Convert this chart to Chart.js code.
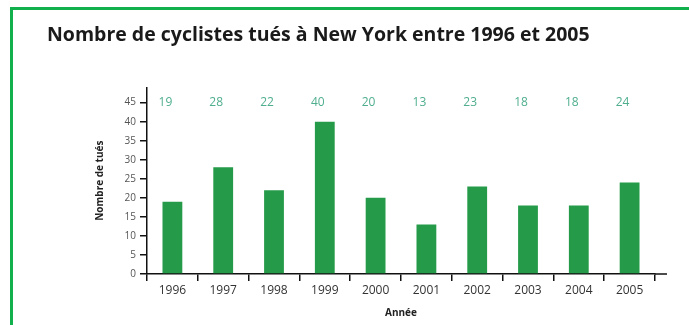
<!DOCTYPE html>
<html>
<head>
<meta charset="utf-8">
<script src="https://cdn.jsdelivr.net/npm/chart.js@4"></script>
<style>
    html, body { margin: 0; padding: 0; background: #fff; }
    #wrap { position: relative; width: 689px; height: 325px; }
    #frame {
        position: absolute; left: 10px; top: 7px; width: 679px; height: 330px;
        border-left: 3px solid #12b04c; border-top: 3px solid #12b04c;
        box-sizing: border-box; pointer-events: none;
    }
</style>
</head>
<body>
<div id="wrap">
    <canvas id="chart" width="689" height="325"></canvas>
    <div id="frame"></div>
</div>
<script>
const years = ['1996', '1997', '1998', '1999', '2000', '2001', '2002', '2003', '2004', '2005'];
const killed = [19, 28, 22, 40, 20, 13, 23, 18, 18, 24];
const yTicks = [0, 5, 10, 15, 20, 25, 30, 35, 40, 45];

// nombres verts en haut, alignés sur la graduation 45
const valueLabels = {
    id: 'valueLabels',
    afterDatasetsDraw(chart) {
        const ctx = chart.ctx;
        const y = chart.scales.y.getPixelForValue(45);
        const bars = chart.getDatasetMeta(0).data;
        ctx.save();
        ctx.font = '12px "Open Sans", sans-serif';
        ctx.fillStyle = '#4fae8e';
        ctx.textAlign = 'center';
        ctx.textBaseline = 'middle';
        bars.forEach((bar, i) => {
            ctx.fillText(String(killed[i]), bar.x - 7, y);
        });
        ctx.restore();
    }
};

// l'axe horizontal dépasse un peu à droite
const axisTail = {
    id: 'axisTail',
    afterDraw(chart) {
        const ctx = chart.ctx;
        const a = chart.chartArea;
        ctx.save();
        ctx.strokeStyle = '#111';
        ctx.lineWidth = 1.5;
        ctx.beginPath();
        ctx.moveTo(a.right, a.bottom);
        ctx.lineTo(a.right + 12, a.bottom);
        ctx.stroke();
        ctx.restore();
    }
};

new Chart(document.getElementById('chart').getContext('2d'), {
    type: 'bar',
    data: {
        labels: years,
        datasets: [{
            data: killed,
            backgroundColor: '#259b49',
            barPercentage: 0.78,
            categoryPercentage: 0.5
        }]
    },
    options: {
        responsive: false,
        animation: false,
        layout: { padding: { left: 47, right: 34, top: 0, bottom: 0 } },
        scales: {
            x: {
                afterFit(scale) { scale.height = 51; },
                grid: {
                    offset: true,
                    drawOnChartArea: false,
                    color: '#111',
                    lineWidth: 1.5,
                    tickLength: 7
                },
                border: { color: '#111', width: 1.5 },
                ticks: {
                    color: '#333',
                    font: { family: '"Open Sans", sans-serif', size: 12 },
                    padding: 2,
                    maxRotation: 0
                },
                title: {
                    display: true,
                    text: 'Année',
                    color: '#222',
                    font: { family: '"Open Sans", sans-serif', size: 10, weight: 'bold' },
                    padding: { top: 0, bottom: 6 }
                }
            },
            y: {
                min: 0,
                max: 49,
                afterFit(scale) { scale.width = 100; },
                afterBuildTicks(scale) {
                    scale.ticks = yTicks.map((v) => ({ value: v }));
                },
                grid: {
                    drawOnChartArea: false,
                    color: '#111',
                    lineWidth: 1.5,
                    tickLength: 7
                },
                border: { color: '#111', width: 1.5 },
                ticks: {
                    color: '#555',
                    font: { family: '"Open Sans", sans-serif', size: 10 },
                    padding: 4
                },
                title: {
                    display: true,
                    text: 'Nombre de tués',
                    color: '#222',
                    font: { family: '"Open Sans", sans-serif', size: 10, weight: 'bold' },
                    padding: { top: 47, bottom: 0 }
                }
            }
        },
        plugins: {
            legend: { display: false },
            tooltip: { enabled: false },
            title: {
                display: true,
                text: 'Nombre de cyclistes tués à New York entre 1996 et 2005',
                align: 'start',
                color: '#1a1a1a',
                font: { family: '"Open Sans", sans-serif', size: 19.5, weight: 'bold' },
                padding: { top: 24, bottom: 40 }
            }
        }
    },
    plugins: [valueLabels, axisTail]
});
</script>
</body>
</html>
